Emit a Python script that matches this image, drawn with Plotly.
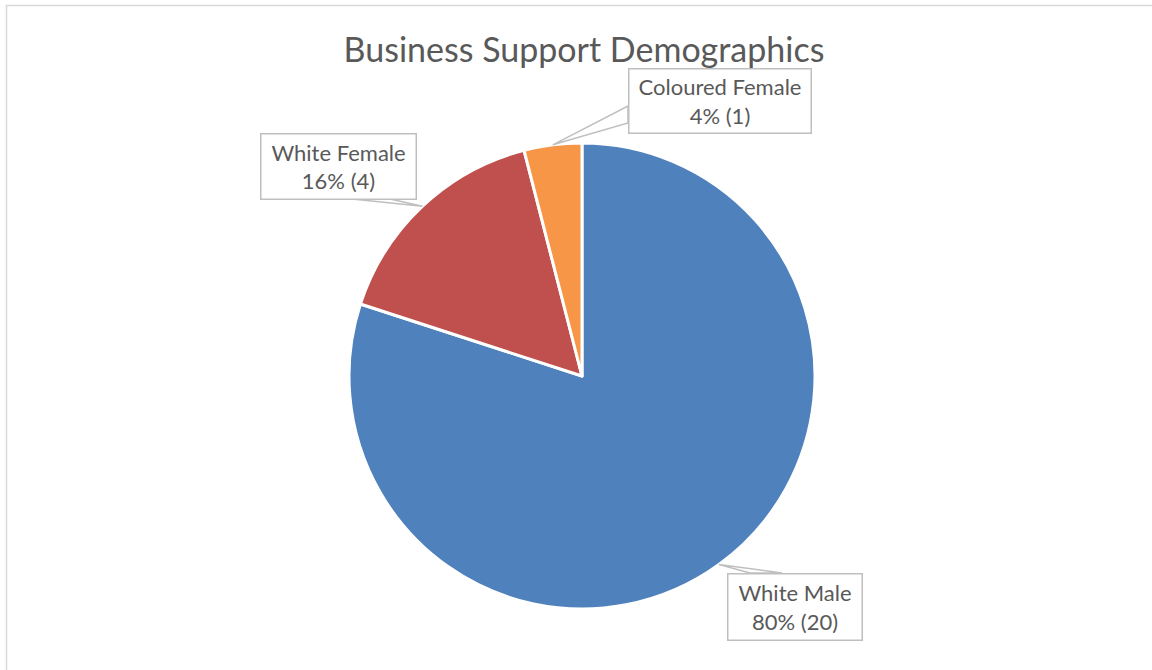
import math
import plotly.graph_objects as go

# Demographic breakdown of the Business Support team
labels = ["White Male", "White Female", "Coloured Female"]
counts = [20, 4, 1]
colors = ["#4f81bd", "#c0504d", "#f79646"]

W, H = 1152, 670
CX, CY, R = 582, 376, 233          # pie centre and radius in pixels

# Label box centres / sizes (pixels) and callout base points on the box edge
boxes = {
    "White Male":      dict(cx=794.5, cy=606.5, w=135, h=67, base=[(750, 573), (782, 573)]),
    "White Female":    dict(cx=338.0, cy=166.0, w=156, h=66, base=[(352, 199), (390, 199)]),
    "Coloured Female": dict(cx=719.5, cy=100.5, w=183, h=65, base=[(628, 106), (628, 123)]),
}


def px(x):
    return x / W


def py(y):
    return 1 - y / H


fig = go.Figure(
    go.Pie(
        labels=labels,
        values=counts,
        sort=False,
        direction="clockwise",
        rotation=0,
        textinfo="none",
        hoverinfo="label+value+percent",
        marker=dict(colors=colors, line=dict(color="white", width=3)),
        domain=dict(x=[px(CX - R), px(CX + R)], y=[py(CY + R), py(CY - R)]),
        showlegend=False,
    )
)

total = sum(counts)
shapes = [
    # chart area outline
    dict(type="rect", xref="paper", yref="paper",
         x0=px(6.5), x1=1.02, y0=-0.02, y1=py(5.5),
         line=dict(color="#d9d9d9", width=1.5), fillcolor="rgba(0,0,0,0)", layer="below"),
]
annotations = []
cum = 0
for lab, v in zip(labels, counts):
    # anchor at the middle of the slice's arc
    theta = math.radians(360 * (cum + v / 2) / total)
    cum += v
    ax = CX + R * math.sin(theta)
    ay = CY - R * math.cos(theta)
    b = boxes[lab]
    (b1x, b1y), (b2x, b2y) = b["base"]
    shapes.append(dict(
        type="path", xref="paper", yref="paper",
        path=f"M {px(ax)},{py(ay)} L {px(b1x)},{py(b1y)} L {px(b2x)},{py(b2y)} Z",
        line=dict(color="#bfbfbf", width=1.5), fillcolor="white", layer="above",
    ))
    pct = round(100 * v / total)
    annotations.append(dict(
        xref="paper", yref="paper", x=px(b["cx"]), y=py(b["cy"]),
        xanchor="center", yanchor="middle", showarrow=False,
        text=f"{lab}<br>{pct}% ({v})",
        font=dict(family="Lato, sans-serif", size=22, color="#595959"),
        align="center", width=b["w"] - 2, height=b["h"] - 2, borderpad=0,
        bgcolor="white", bordercolor="#bfbfbf", borderwidth=1.5,
    ))

fig.update_layout(
    width=W, height=H,
    margin=dict(l=0, r=0, t=0, b=0),
    paper_bgcolor="white",
    title=dict(
        text="Business Support Demographics",
        x=px(584), xanchor="center", y=py(50), yanchor="middle",
        font=dict(family="Lato, sans-serif", size=34, color="#595959"),
    ),
    shapes=shapes,
    annotations=annotations,
)

fig.write_html("out.html")
